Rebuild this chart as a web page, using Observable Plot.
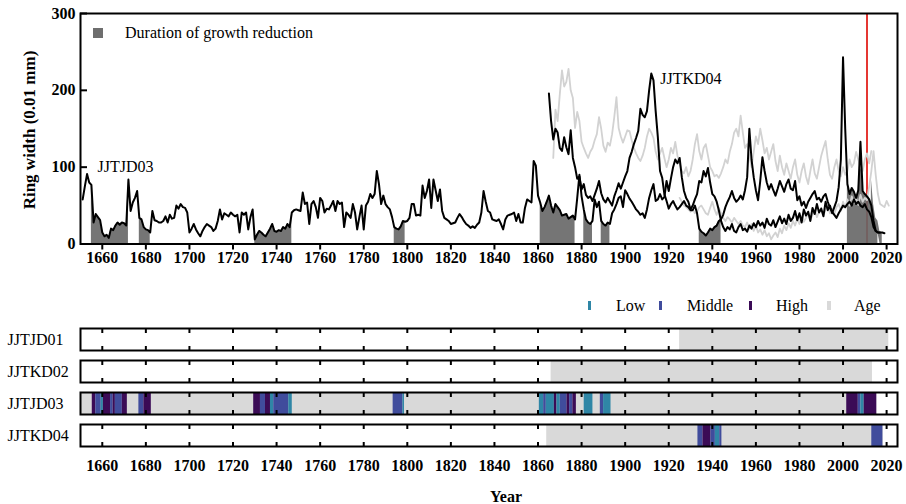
<!DOCTYPE html>
<html><head><meta charset="utf-8">
<script src="https://cdn.jsdelivr.net/npm/d3@7"></script>
<script src="https://cdn.jsdelivr.net/npm/@observablehq/plot@0.6"></script>
<style>
body{margin:0;background:#fff;}
#wrap{position:relative;width:906px;height:504px;font-family:"Liberation Serif","Times New Roman",serif;color:#000;overflow:hidden;}
#wrap svg{position:absolute;left:0;}
.abs{position:absolute;white-space:nowrap;line-height:1;}
</style></head><body><div id="wrap"></div>
<script>
// ---------- data ----------
const trees = ["JJTJD01", "JJTKD02", "JJTJD03", "JJTKD04"];
const xTicks = [1660,1680,1700,1720,1740,1760,1780,1800,1820,1840,1860,1880,1900,1920,1940,1960,1980,2000,2020];
const yTicks = [0, 100, 200, 300];
const eventYear = 2011;

const JJTJD03 = [[1651,58],[1652,75],[1653,91],[1654,80],[1655,77],[1656,28],[1657,39],[1658,35],[1659,31],[1660,15],[1661,10],[1662,12],[1663,8],[1664,20],[1665,18],[1666,24],[1667,28],[1668,25],[1669,28],[1670,27],[1671,24],[1672,84],[1673,43],[1674,54],[1675,60],[1676,69],[1677,34],[1678,32],[1679,22],[1680,19],[1681,18],[1682,15],[1683,43],[1684,31],[1685,30],[1686,28],[1687,28],[1688,30],[1689,36],[1690,28],[1691,38],[1692,33],[1693,34],[1694,50],[1695,46],[1696,52],[1697,48],[1698,47],[1699,41],[1700,15],[1701,20],[1702,26],[1703,19],[1704,14],[1705,10],[1706,17],[1707,22],[1708,26],[1709,24],[1710,22],[1711,17],[1712,20],[1713,30],[1714,45],[1715,32],[1716,40],[1717,38],[1718,36],[1719,41],[1720,38],[1721,36],[1722,38],[1723,15],[1724,41],[1725,38],[1726,41],[1727,19],[1728,35],[1729,45],[1730,6],[1731,12],[1732,17],[1733,15],[1734,12],[1735,10],[1736,15],[1737,20],[1738,26],[1739,17],[1740,16],[1741,18],[1742,17],[1743,22],[1744,20],[1745,26],[1746,22],[1747,41],[1748,44],[1749,45],[1750,44],[1751,43],[1752,67],[1753,52],[1754,54],[1755,26],[1756,52],[1757,56],[1758,48],[1759,34],[1760,60],[1761,56],[1762,41],[1763,46],[1764,45],[1765,50],[1766,56],[1767,43],[1768,56],[1769,52],[1770,54],[1771,22],[1772,41],[1773,38],[1774,34],[1775,52],[1776,41],[1777,19],[1778,35],[1779,50],[1780,19],[1781,50],[1782,55],[1783,65],[1784,60],[1785,65],[1786,95],[1787,78],[1788,52],[1789,63],[1790,52],[1791,48],[1792,45],[1793,35],[1794,22],[1795,20],[1796,19],[1797,23],[1798,30],[1799,29],[1800,30],[1801,34],[1802,52],[1803,52],[1804,37],[1805,38],[1806,37],[1807,76],[1808,60],[1809,69],[1810,84],[1811,47],[1812,84],[1813,70],[1814,56],[1815,71],[1816,43],[1817,34],[1818,32],[1819,30],[1820,26],[1821,27],[1822,28],[1823,34],[1824,39],[1825,35],[1826,30],[1827,26],[1828,24],[1829,21],[1830,23],[1831,21],[1832,25],[1833,28],[1834,41],[1835,69],[1836,55],[1837,43],[1838,41],[1839,32],[1840,31],[1841,30],[1842,32],[1843,26],[1844,19],[1845,32],[1846,37],[1847,38],[1848,39],[1849,41],[1850,30],[1851,39],[1852,28],[1853,28],[1854,47],[1855,58],[1856,56],[1857,54],[1858,108],[1859,102],[1860,63],[1861,54],[1862,43],[1863,48],[1864,55],[1865,63],[1866,50],[1867,41],[1868,52],[1869,48],[1870,44],[1871,37],[1872,38],[1873,39],[1874,33],[1875,35],[1876,37],[1877,32],[1878,60],[1879,90],[1880,62],[1881,45],[1882,32],[1883,28],[1884,26],[1885,30],[1886,58],[1887,48],[1888,55],[1889,30],[1890,26],[1891,24],[1892,28],[1893,26],[1894,40],[1895,45],[1896,52],[1897,60],[1898,62],[1899,48],[1900,70],[1901,65],[1902,59],[1903,55],[1904,50],[1905,45],[1906,42],[1907,38],[1908,40],[1909,34],[1910,45],[1911,60],[1912,70],[1913,78],[1914,56],[1915,58],[1916,65],[1917,58],[1918,61],[1919,82],[1920,69],[1921,85],[1922,100],[1923,110],[1924,105],[1925,112],[1926,87],[1927,69],[1928,60],[1929,55],[1930,45],[1931,50],[1932,58],[1933,65],[1934,82],[1935,80],[1936,95],[1937,88],[1938,99],[1939,80],[1940,65],[1941,62],[1942,55],[1943,44],[1944,30],[1945,22],[1946,17],[1947,22],[1948,19],[1949,26],[1950,17],[1951,15],[1952,22],[1953,26],[1954,18],[1955,20],[1956,16],[1957,24],[1958,20],[1959,27],[1960,22],[1961,30],[1962,24],[1963,28],[1964,21],[1965,33],[1966,26],[1967,24],[1968,31],[1969,22],[1970,29],[1971,36],[1972,27],[1973,33],[1974,26],[1975,38],[1976,30],[1977,34],[1978,43],[1979,31],[1980,40],[1981,28],[1982,45],[1983,37],[1984,42],[1985,30],[1986,47],[1987,39],[1988,52],[1989,41],[1990,46],[1991,36],[1992,55],[1993,44],[1994,50],[1995,40],[1996,48],[1997,56],[1998,74],[1999,110],[2000,243],[2001,150],[2002,78],[2003,65],[2004,73],[2005,68],[2006,60],[2007,70],[2008,133],[2009,69],[2010,65],[2011,62],[2012,58],[2013,50],[2014,30],[2015,17],[2016,15],[2017,15]];

const JJTKD04 = [[1865,196],[1866,160],[1867,136],[1868,150],[1869,145],[1870,125],[1871,121],[1872,139],[1873,126],[1874,117],[1875,148],[1876,112],[1877,100],[1878,85],[1879,88],[1880,71],[1881,78],[1882,64],[1883,60],[1884,62],[1885,56],[1886,64],[1887,72],[1888,82],[1889,66],[1890,58],[1891,54],[1892,60],[1893,55],[1894,50],[1895,62],[1896,70],[1897,79],[1898,72],[1899,80],[1900,88],[1901,95],[1902,112],[1903,120],[1904,130],[1905,138],[1906,147],[1907,176],[1908,168],[1909,165],[1910,173],[1911,200],[1912,222],[1913,213],[1914,173],[1915,139],[1916,95],[1917,86],[1918,65],[1919,56],[1920,46],[1921,52],[1922,56],[1923,50],[1924,45],[1925,48],[1926,52],[1927,56],[1928,50],[1929,48],[1930,44],[1931,44],[1932,50],[1933,40],[1934,20],[1935,16],[1936,14],[1937,11],[1938,15],[1939,20],[1940,18],[1941,22],[1942,24],[1943,30],[1944,32],[1945,38],[1946,48],[1947,55],[1948,61],[1949,69],[1950,60],[1951,55],[1952,58],[1953,63],[1954,58],[1955,70],[1956,87],[1957,150],[1958,110],[1959,87],[1960,70],[1961,57],[1962,82],[1963,113],[1964,95],[1965,80],[1966,71],[1967,78],[1968,70],[1969,63],[1970,72],[1971,82],[1972,75],[1973,68],[1974,78],[1975,84],[1976,72],[1977,70],[1978,82],[1979,57],[1980,62],[1981,50],[1982,55],[1983,47],[1984,55],[1985,60],[1986,65],[1987,69],[1988,58],[1989,60],[1990,55],[1991,62],[1992,65],[1993,55],[1994,47],[1995,42],[1996,38],[1997,34],[1998,40],[1999,45],[2000,50],[2001,48],[2002,52],[2003,55],[2004,50],[2005,58],[2006,52],[2007,55],[2008,50],[2009,48],[2010,52],[2011,45],[2012,42],[2013,35],[2014,22],[2015,17],[2016,15],[2017,15],[2018,15],[2019,14]];

const JJTKD02 = [[1867,112],[1868,175],[1869,160],[1870,195],[1871,226],[1872,205],[1873,211],[1874,228],[1875,200],[1876,190],[1877,151],[1878,172],[1879,160],[1880,133],[1881,125],[1882,118],[1883,112],[1884,120],[1885,125],[1886,135],[1887,143],[1888,165],[1889,150],[1890,128],[1891,120],[1892,132],[1893,128],[1894,143],[1895,165],[1896,191],[1897,151],[1898,140],[1899,132],[1900,140],[1901,148],[1902,147],[1903,135],[1904,125],[1905,118],[1906,112],[1907,108],[1908,115],[1909,125],[1910,140],[1911,150],[1912,145],[1913,138],[1914,120],[1915,110],[1916,118],[1917,125],[1918,112],[1919,100],[1920,110],[1921,125],[1922,118],[1923,133],[1924,115],[1925,105],[1926,95],[1927,92],[1928,100],[1929,88],[1930,95],[1931,110],[1932,130],[1933,143],[1934,121],[1935,110],[1936,125],[1937,130],[1938,115],[1939,100],[1940,95],[1941,88],[1942,90],[1943,86],[1944,92],[1945,100],[1946,110],[1947,105],[1948,120],[1949,130],[1950,145],[1951,150],[1952,140],[1953,167],[1954,145],[1955,125],[1956,130],[1957,115],[1958,100],[1959,120],[1960,140],[1961,130],[1962,150],[1963,135],[1964,118],[1965,125],[1966,110],[1967,120],[1968,130],[1969,108],[1970,95],[1971,115],[1972,100],[1973,90],[1974,105],[1975,95],[1976,85],[1977,100],[1978,110],[1979,90],[1980,80],[1981,95],[1982,105],[1983,88],[1984,78],[1985,95],[1986,110],[1987,92],[1988,85],[1989,100],[1990,115],[1991,125],[1992,134],[1993,110],[1994,90],[1995,85],[1996,100],[1997,110],[1998,95],[1999,88],[2000,100],[2001,90],[2002,95],[2003,110],[2004,100],[2005,105],[2006,120],[2007,110],[2008,100],[2009,95],[2010,110],[2011,118],[2012,105],[2013,121]];

const JJTJD01 = [[1925,60],[1926,55],[1927,50],[1928,48],[1929,45],[1930,42],[1931,45],[1932,40],[1933,42],[1934,48],[1935,50],[1936,45],[1937,40],[1938,38],[1939,47],[1940,55],[1941,45],[1942,38],[1943,47],[1944,40],[1945,34],[1946,30],[1947,35],[1948,32],[1949,28],[1950,34],[1951,30],[1952,26],[1953,30],[1954,24],[1955,22],[1956,28],[1957,20],[1958,26],[1959,17],[1960,24],[1961,15],[1962,19],[1963,12],[1964,18],[1965,10],[1966,14],[1967,6],[1968,11],[1969,15],[1970,9],[1971,20],[1972,14],[1973,24],[1974,18],[1975,27],[1976,21],[1977,30],[1978,24],[1979,33],[1980,26],[1981,36],[1982,29],[1983,34],[1984,41],[1985,31],[1986,38],[1987,44],[1988,35],[1989,42],[1990,47],[1991,37],[1992,45],[1993,50],[1994,40],[1995,46],[1996,39],[1997,48],[1998,52],[1999,43],[2000,55],[2001,47],[2002,58],[2003,50],[2004,62],[2005,53],[2006,60],[2007,51],[2008,64],[2009,55],[2010,60],[2011,57],[2012,75],[2013,95],[2014,121],[2015,90],[2016,65],[2017,52],[2018,50],[2019,48],[2020,56],[2021,50]];

// growth-reduction periods (years)
const reductions = [
  ["JJTJD03",1655,1672],["JJTJD03",1677,1682],["JJTJD03",1730,1747],["JJTJD03",1794,1799],
  ["JJTJD03",1861,1877],["JJTJD03",1881,1885],["JJTJD03",1889,1893],["JJTJD03",2002,2016],
  ["JJTKD04",1934,1944],["JJTKD04",2013,2018]
];
// tree age spans
const ages = [["JJTJD01",1925,2021],["JJTKD02",1866,2013.5],["JJTJD03",1650,2015.5],["JJTKD04",1864,2018.5]];
// intensity of growth reduction: tree, start, end, level
const intensity = [
  ["JJTJD03",1655.4,1657,"High"],["JJTJD03",1657,1659.5,"Middle"],["JJTJD03",1659.5,1660.5,"Low"],["JJTJD03",1660.5,1663.8,"High"],
  ["JJTJD03",1663.8,1665,"Middle"],["JJTJD03",1665,1666,"High"],["JJTJD03",1666,1669.2,"Middle"],["JJTJD03",1669.2,1671.5,"High"],
  ["JJTJD03",1676.8,1679.1,"Middle"],["JJTJD03",1679.1,1682.5,"High"],
  ["JJTJD03",1729.5,1732.6,"High"],["JJTJD03",1732.6,1734.9,"Middle"],["JJTJD03",1734.9,1737.2,"High"],["JJTJD03",1737.2,1738.7,"Low"],
  ["JJTJD03",1738.7,1745.6,"Middle"],["JJTJD03",1745.6,1747.2,"Low"],
  ["JJTJD03",1793.5,1798,"Middle"],["JJTJD03",1798,1798.7,"Low"],
  ["JJTJD03",1860.6,1862.6,"Low"],["JJTJD03",1862.6,1863.8,"Middle"],["JJTJD03",1863.8,1867.5,"Low"],["JJTJD03",1867.5,1868.7,"High"],
  ["JJTJD03",1868.7,1870.2,"Low"],["JJTJD03",1870.2,1873.3,"Middle"],["JJTJD03",1873.3,1874.5,"High"],["JJTJD03",1874.5,1876,"Middle"],
  ["JJTJD03",1876,1877.6,"High"],
  ["JJTJD03",1881.2,1885.2,"Low"],["JJTJD03",1888.6,1890.1,"Middle"],["JJTJD03",1890.1,1893.5,"Low"],
  ["JJTJD03",2001.7,2007,"High"],["JJTJD03",2007,2008.2,"Middle"],["JJTJD03",2008.2,2009.7,"Low"],["JJTJD03",2009.7,2015.5,"High"],
  ["JJTKD04",1933.4,1935.7,"Middle"],["JJTKD04",1935.7,1939.4,"High"],["JJTKD04",1939.4,1941.4,"Middle"],
  ["JJTKD04",1941.4,1943.4,"Low"],["JJTKD04",1943.4,1944.4,"Middle"],["JJTKD04",2013.2,2018.3,"Middle"]
];
const levels = ["Low", "Middle", "High", "Age"];
const levelColors = ["#2f86a6", "#404c9c", "#3b0b56", "#d9d9d9"];
const seriesLabels = [{text:"JJTJD03", year:1657.8, value:100}, {text:"JJTKD04", year:1916.1, value:215}];

// ---------- build tables ----------
const toRows = (tree, arr) => arr.map(([year, value]) => ({tree, year, value}));
const seriesByTree = {JJTJD01: toRows("JJTJD01", JJTJD01), JJTKD02: toRows("JJTKD02", JJTKD02), JJTJD03: toRows("JJTJD03", JJTJD03), JJTKD04: toRows("JJTKD04", JJTKD04)};
const blackRows = [...seriesByTree.JJTJD03, ...seriesByTree.JJTKD04];
const grayRows = [...seriesByTree.JJTKD02, ...seriesByTree.JJTJD01];
const shadeRows = reductions.flatMap(([tree, s, e], i) =>
  seriesByTree[tree].filter(d => d.year >= s && d.year <= e).map(d => ({...d, seg: i})));
const ageRows = ages.map(([tree, start, end]) => ({tree, start, end}));
const intRows = intensity.map(([tree, start, end, level]) => ({tree, start, end, level}));

const FONT = '"Liberation Serif","Times New Roman",serif';
const STYLE = "font-family:'Liberation Serif','Times New Roman',serif;font-size:16px;background:transparent;color:#000;";
const wrap = document.getElementById("wrap");
const xDomain = [1650, 2025];

// ---------- top panel ----------
const topPlot = Plot.plot({
  width: 906, height: 276,
  marginLeft: 80, marginRight: 9, marginTop: 13, marginBottom: 32.5,
  style: STYLE,
  x: {domain: xDomain},
  y: {domain: [0, 300]},
  marks: [
    Plot.ruleX([eventYear], {stroke: "#e3211c", strokeWidth: 1.8}),
    Plot.areaY(shadeRows, {x: "year", y: "value", z: "seg", fill: "#666", fillOpacity: 0.9}),
    Plot.lineY(grayRows, {x: "year", y: "value", z: "tree", stroke: "#d2d2d2", strokeWidth: 1.8}),
    Plot.lineY(blackRows, {x: "year", y: "value", z: "tree", stroke: "#000", strokeWidth: 2}),
    Plot.text(seriesLabels, {x: "year", y: "value", text: "text", textAnchor: "start", fontSize: 16}),
    Plot.axisX({ticks: xTicks, tickSize: 6, tickPadding: 2, strokeWidth: 2, fontWeight: "bold", fontSize: 16, label: null, tickFormat: d => String(d)}),
    Plot.axisY({ticks: yTicks, tickSize: -7, tickPadding: 12, strokeWidth: 2, fontWeight: "bold", fontSize: 16, label: null}),
    Plot.frame({stroke: "#000", strokeWidth: 2})
  ]
});
topPlot.style.top = "0px";
wrap.appendChild(topPlot);

// ---------- bottom panel ----------
const botPlot = Plot.plot({
  width: 906, height: 224,
  marginLeft: 80, marginRight: 9, marginTop: 47, marginBottom: 56,
  style: STYLE,
  x: {domain: xDomain},
  fy: {domain: trees, paddingInner: 0.31, paddingOuter: 0, axis: null},
  color: {domain: levels, range: levelColors},
  marks: [
    Plot.rect(ageRows, {x1: "start", x2: "end", fy: "tree", fill: levelColors[3]}),
    Plot.rect(intRows, {x1: "start", x2: "end", fy: "tree", fill: "level"}),
    Plot.axisX({anchor: "bottom", facetAnchor: null, ticks: xTicks, tickSize: -4, strokeWidth: 2, tickFormat: () => "", label: null}),
    Plot.axisX({anchor: "top", facetAnchor: null, ticks: xTicks, tickSize: -4, strokeWidth: 2, tickFormat: () => "", label: null}),
    Plot.axisX({anchor: "bottom", ticks: xTicks, tickSize: 0, tickPadding: 13, fontWeight: "bold", fontSize: 16, label: null, tickFormat: d => String(d)}),
    Plot.frame({stroke: "#000", strokeWidth: 2}),
    Plot.text(trees, {fy: d => d, text: d => d, frameAnchor: "left", dx: -73, textAnchor: "start", fontSize: 16})
  ]
});
botPlot.style.top = "280px";
wrap.appendChild(botPlot);

// serif face for every SVG text; bold tick labels
for (const t of wrap.querySelectorAll("svg text")) {
  t.style.fontFamily = FONT;
  const g = t.closest("g[aria-label]");
  if (g && /tick label/.test(g.getAttribute("aria-label"))) t.style.fontWeight = "bold";
}

// ---------- HTML legends and titles ----------
function add(html, css) {
  const d = document.createElement("div");
  d.className = "abs";
  d.innerHTML = html;
  Object.assign(d.style, css);
  wrap.appendChild(d);
  return d;
}
// top legend
add("", {left: "93px", top: "28px", width: "10px", height: "10px", background: "#6e6e6e"});
add("Duration of growth reduction", {left: "125px", top: "25px", fontSize: "16px"});
// y label
add("Ring width (0.01 mm)", {left: "29px", top: "130px", fontSize: "17px", fontWeight: "bold", transform: "translate(-50%,-50%) rotate(-90deg)"});
// bottom legend
const legendPos = [[588, 616], [659, 687], [749, 776], [827, 854]];
levels.forEach((lv, i) => {
  const [mx, tx] = legendPos[i];
  add("", {left: mx + "px", top: "301px", width: (i === 3 ? 4 : 2.5) + "px", height: "9px", background: levelColors[i]});
  add(lv, {left: tx + "px", top: "298px", fontSize: "16px"});
});
// x title
add("Year", {left: "506px", top: "497px", fontSize: "16px", fontWeight: "bold", transform: "translate(-50%,-50%)"});
</script></body></html>
